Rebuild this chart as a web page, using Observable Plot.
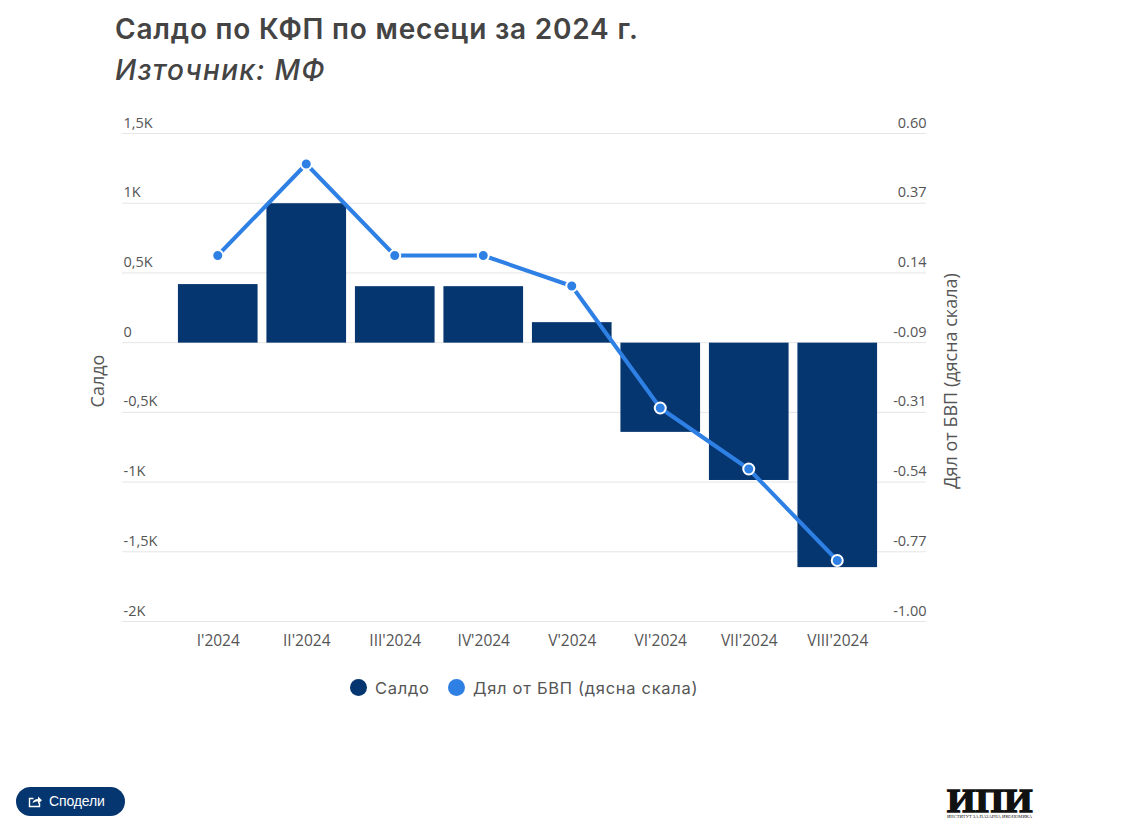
<!DOCTYPE html>
<html lang="bg">
<head>
<meta charset="utf-8">
<script src="https://cdn.jsdelivr.net/npm/d3@7"></script>
<script src="https://cdn.jsdelivr.net/npm/@observablehq/plot@0.6"></script>
<style>
  html, body { margin: 0; padding: 0; background: #fff; width: 1136px; height: 834px; overflow: hidden; position: relative; }
  #head { height: 100px; position: relative; font-family: Inter, "Open Sans", sans-serif; color: #444; }
  #title { position: absolute; left: 115px; top: 11px; font-size: 28px; font-weight: 600; line-height: 36px; letter-spacing: 0.8px; white-space: nowrap; }
  #subtitle { position: absolute; left: 115px; top: 52px; font-size: 28px; font-weight: 500; font-style: italic; line-height: 36px; letter-spacing: 1.25px; white-space: nowrap; }
  #chart svg { display: block; }
  #legend { position: absolute; top: 678px; left: 0; width: 1136px; height: 20px; font-family: Inter, "Open Sans", sans-serif; font-size: 16.5px; letter-spacing: 0.7px; color: #555; }
  .lg { position: absolute; top: 0; line-height: 20px; white-space: nowrap; }
  .sw { position: absolute; top: 1px; width: 17px; height: 17px; border-radius: 50%; }
  #share { position: absolute; left: 16px; top: 787px; width: 109px; height: 29px; border-radius: 15px; background: #06366f; color: #fff; font-family: "Liberation Sans", Arial, sans-serif; font-size: 14px; line-height: 29px; }
  #share svg { position: absolute; left: 12px; top: 7px; }
  #share span { position: absolute; left: 33px; letter-spacing: -0.15px; }
  #logo { position: absolute; left: 947px; top: 785px; width: 86px; color: #111; }
  #logo .big { font-family: "Liberation Serif", serif; font-weight: 700; font-size: 33px; line-height: 32px; transform: scaleX(1.11); transform-origin: left; white-space: nowrap; -webkit-text-stroke: 1.4px #111; }
  #logo .small { font-family: "Liberation Serif", serif; font-size: 4.6px; line-height: 5px; white-space: nowrap; margin-top: -3.5px; }
</style>
</head>
<body>
<div id="head">
  <div id="title">Салдо по КФП по месеци за 2024 г.</div>
  <div id="subtitle">Източник: МФ</div>
</div>
<div id="chart"></div>
<div id="legend">
  <div class="sw" style="left:350px;background:#06366f"></div><div class="lg" style="left:375px">Салдо</div>
  <div class="sw" style="left:448px;background:#2f80e4"></div><div class="lg" style="left:473px">Дял от БВП (дясна скала)</div>
</div>
<div id="share">
  <svg width="15" height="15" viewBox="0 0 15 15" fill="none"><path d="M11.5 9v3.5h-10v-8h4" stroke="#fff" stroke-width="1.4"/><path d="M4.5 9.5c.3-3 2.500-4.500 5.500-4.500V2.500l4 3.700-4 3.700V7.500c-2.500 0-4.300.6-5.500 2z" fill="#fff"/></svg>
  <span>Сподели</span>
</div>
<div id="logo">
  <div class="big">ИПИ</div>
  <div class="small">ИНСТИТУТ ЗА ПАЗАРНА ИКОНОМИКА</div>
</div>
<script>
const months = ["I'2024", "II'2024", "III'2024", "IV'2024", "V'2024", "VI'2024", "VII'2024", "VIII'2024"];
const saldo = [420, 1000, 405, 405, 147, -640, -985, -1610];
const share = [0.20, 0.50, 0.20, 0.20, 0.10, -0.30, -0.50, -0.80];
const leftTicks = [1500, 1000, 500, 0, -500, -1000, -1500, -2000];
const leftLabels = ["1,5K", "1K", "0,5K", "0", "-0,5K", "-1K", "-1,5K", "-2K"];
const rightLabels = ["0.60", "0.37", "0.14", "-0.09", "-0.31", "-0.54", "-0.77", "-1.00"];

const leftDomain = [-2000, 1500];
const rightDomain = [-1, 0.6];
// secondary axis: share values mapped onto the primary y scale
const toLeft = d3.scaleLinear(rightDomain, leftDomain);

const bars = months.map((m, i) => ({m, v: saldo[i]}));
const line = months.map((m, i) => ({m, v: toLeft(share[i])}));
const ticks = leftTicks.map((t, i) => ({t, l: leftLabels[i], r: rightLabels[i]}));

const tickFont = {fontFamily: "'Open Sans', sans-serif", fontSize: 14.5, fill: "#555"};

const chart = Plot.plot({
  width: 1136,
  height: 580,
  marginTop: 33.5,
  marginBottom: 58.5,
  marginLeft: 122,
  marginRight: 210,
  style: {background: "#fff", overflow: "visible"},
  x: {domain: months, range: [173.5, 881.5], paddingInner: 0.1, paddingOuter: 0.05, round: false, label: null},
  y: {domain: leftDomain, axis: null, label: null},
  marks: [
    Plot.ruleY(ticks, {y: "t", stroke: "#e6e6e6", strokeWidth: 1, strokeOpacity: 1, dy: -0.5}),
    Plot.barY(bars, {x: "m", y1: 0, y2: "v", fill: "#06366f"}),
    Plot.line(line, {x: "m", y: "v", stroke: "#2f80e4", strokeWidth: 4, curve: "linear", dx: -0.5, dy: -0.5}),
    Plot.dot(line, {x: "m", y: "v", r: 5.5, fill: "#2f80e4", stroke: "#fff", strokeWidth: 2, strokeOpacity: 1, dx: -0.5, dy: -0.5}),
    Plot.axisX({anchor: "bottom", tickSize: 0, tickPadding: 12.5, label: null, fontSize: 15.5, fontFamily: "'Open Sans', sans-serif", color: "#555"}),
    Plot.text(ticks, {y: "t", text: "l", frameAnchor: "left", textAnchor: "start", dx: 1, dy: -11, ...tickFont}),
    Plot.text(ticks, {y: "t", text: "r", frameAnchor: "right", textAnchor: "end", dy: -11, ...tickFont}),
    Plot.text(["Салдо"], {text: d => d, frameAnchor: "left", textAnchor: "middle", rotate: -90, dx: -24, dy: 3, ...tickFont, fontSize: 18}),
    Plot.text(["Дял от БВП (дясна скала)"], {text: d => d, frameAnchor: "right", textAnchor: "middle", rotate: -90, dx: 25, dy: 3, ...tickFont, fontSize: 18})
  ]
});
document.getElementById("chart").append(chart);
</script>
</body>
</html>
